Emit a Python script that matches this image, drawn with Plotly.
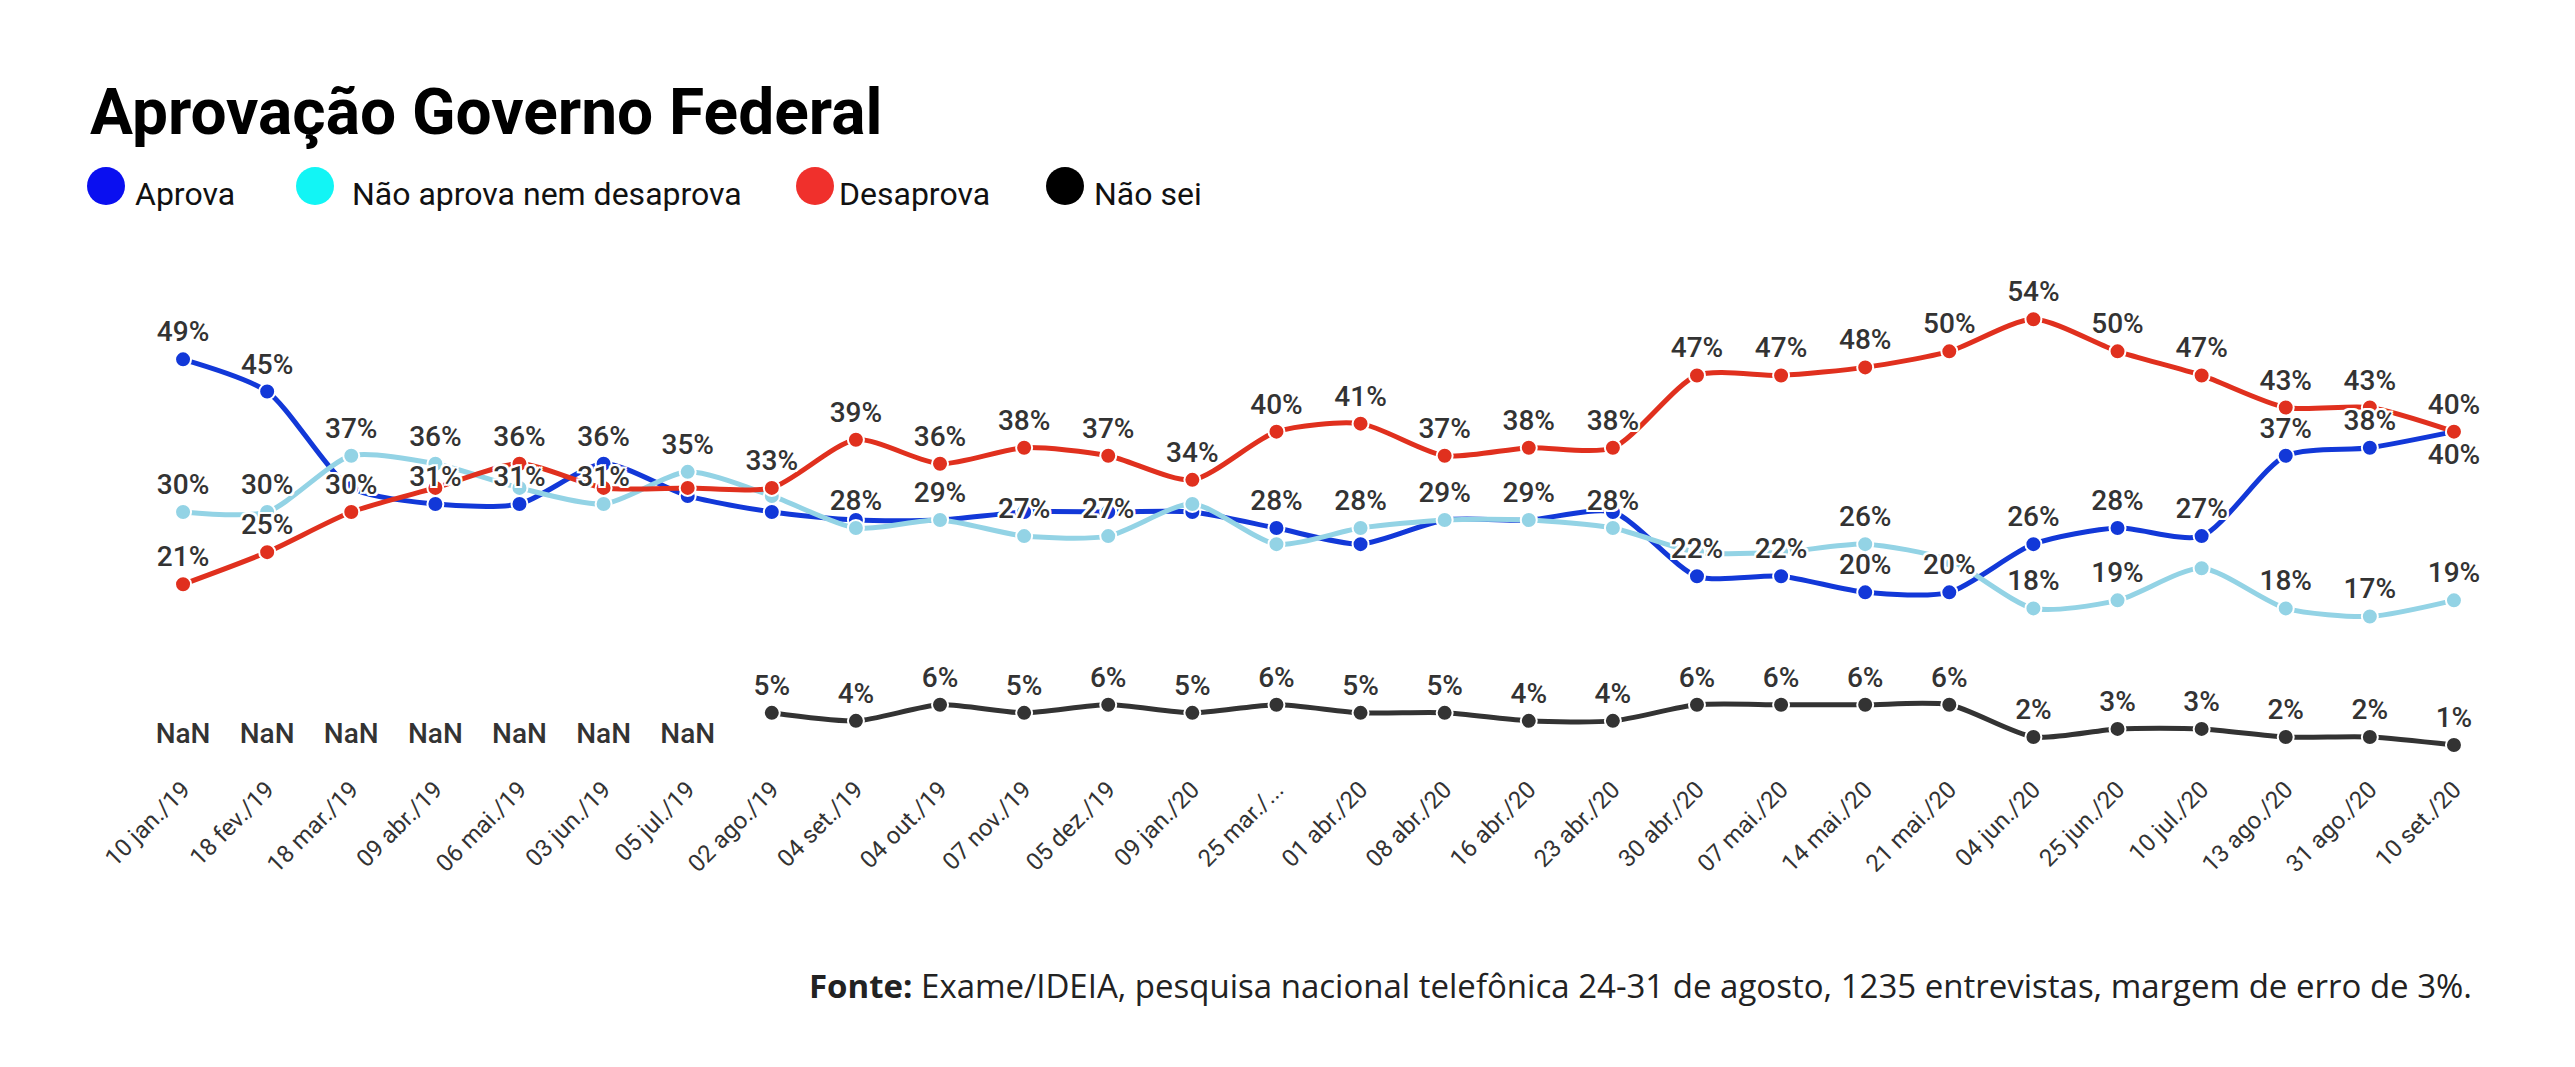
import plotly.graph_objects as go

W, H = 2575, 1067

categories = ["10 jan./19", "18 fev./19", "18 mar./19", "09 abr./19", "06 mai./19",
              "03 jun./19", "05 jul./19", "02 ago./19", "04 set./19", "04 out./19",
              "07 nov./19", "05 dez./19", "09 jan./20", "25 mar./...", "01 abr./20",
              "08 abr./20", "16 abr./20", "23 abr./20", "30 abr./20", "07 mai./20",
              "14 mai./20", "21 mai./20", "04 jun./20", "25 jun./20", "10 jul./20",
              "13 ago./20", "31 ago./20", "10 set./20"]

aprova = [49, 45, 33, 31, 31, 36, 32, 30, 29, 29, 30, 30, 30, 28, 26, 29, 29, 30,
          22, 22, 20, 20, 26, 28, 27, 37, 38, 40]
nem = [30, 30, 37, 36, 33, 31, 35, 32, 28, 29, 27, 27, 31, 26, 28, 29, 29, 28,
       25, 25, 26, 24, 18, 19, 23, 18, 17, 19]
desaprova = [21, 25, 30, 33, 36, 33, 33, 33, 39, 36, 38, 37, 34, 40, 41, 37, 38, 38,
             47, 47, 48, 50, 54, 50, 47, 43, 43, 40]
nao_sei = [None] * 7 + [5, 4, 6, 5, 6, 5, 6, 5, 5, 4, 4, 6, 6, 6, 6, 2, 3, 3, 2, 2, 1]

series_names = ["Aprova", "Não aprova nem desaprova", "Desaprova", "Não sei"]
line_colors = ["#1238d8", "#93d3e5", "#e0301e", "#333333"]
legend_colors = ["#0a0ff0", "#12f5f5", "#f0302c", "#000000"]

# labels hidden in the original because of overlap
hidden = {
    "Aprova": {2, 6, 7, 8, 9, 10, 11, 12, 14, 15, 16, 17},
    "Não aprova nem desaprova": {4, 7, 12, 13, 18, 19, 21, 24},
    "Desaprova": {3, 5, 6},
    "Não sei": set(),
}

def px_x(p):
    return p / W

def px_y(p):
    return 1 - p / H

fig = go.Figure()

data = [aprova, nem, desaprova, nao_sei]
draw_order = [3, 0, 1, 2]

for i in draw_order:
    fig.add_trace(go.Scatter(
        x=categories, y=data[i], mode="lines+markers", name=series_names[i],
        line=dict(color=line_colors[i], width=5, shape="spline", smoothing=0.7),
        marker=dict(size=16, color=line_colors[i], line=dict(color="white", width=2)),
        cliponaxis=False, showlegend=False, hoverinfo="skip",
    ))

halo = ", ".join(f"{dx}px {dy}px 0 #fff" for dx in (-2, 0, 2) for dy in (-2, 0, 2) if dx or dy)
label_font = dict(family="Roboto", size=28, color="#333333", weight=500, shadow=halo)

for i in draw_order:
    name = series_names[i]
    vals = data[i]
    texts = ["" if (v is None or k in hidden[name]) else f"{v}%" for k, v in enumerate(vals)]
    pos = ["top center"] * len(vals)
    if name == "Aprova":
        pos[-1] = "bottom center"
    fig.add_trace(go.Scatter(
        x=categories, y=vals, mode="markers+text", text=texts, textposition=pos,
        textfont=label_font, marker=dict(size=16, color="rgba(0,0,0,0)"),
        cliponaxis=False, showlegend=False, hoverinfo="skip",
    ))

# NaN labels for missing "Não sei" values
nan_x = [c for c, v in zip(categories, nao_sei) if v is None]
fig.add_trace(go.Scatter(
    x=nan_x, y=[0] * len(nan_x), mode="markers+text", text=["NaN"] * len(nan_x),
    textposition="top center", textfont=label_font,
    marker=dict(size=4, color="rgba(0,0,0,0)"),
    cliponaxis=False, showlegend=False, hoverinfo="skip",
))

annotations = [
    dict(text="<b>Aprovação Governo Federal</b>", x=px_x(88), y=px_y(112), xref="paper", yref="paper",
         xanchor="left", yanchor="middle", showarrow=False,
         font=dict(family="Roboto", size=64, color="#000000")),
    dict(text="<b>Fonte:</b> Exame/IDEIA, pesquisa nacional telefônica 24-31 de agosto, 1235 entrevistas, margem de erro de 3%.",
         x=px_x(2474), y=px_y(985), xref="paper", yref="paper", xanchor="right", yanchor="middle",
         showarrow=False, font=dict(family="Open Sans", size=33, color="#222222")),
]

shapes = []
legend_circle_x = [106, 315, 815, 1065]
legend_text_x = [133, 350, 837, 1092]
for cx, tx, col, name in zip(legend_circle_x, legend_text_x, legend_colors, series_names):
    r = 19
    shapes.append(dict(type="circle", xref="paper", yref="paper",
                       x0=px_x(cx - r), x1=px_x(cx + r), y0=px_y(186 + r), y1=px_y(186 - r),
                       fillcolor=col, line=dict(width=0)))
    annotations.append(dict(text=name, x=px_x(tx), y=px_y(194), xref="paper", yref="paper",
                            xanchor="left", yanchor="middle", showarrow=False,
                            font=dict(family="Roboto", size=32, color="#111111")))

fig.update_layout(
    width=W, height=H, autosize=False,
    margin=dict(l=0, r=0, t=0, b=0),
    paper_bgcolor="white", plot_bgcolor="white",
    showlegend=False,
    xaxis=dict(type="category", range=[-0.5, len(categories) - 0.5],
               domain=[px_x(141), px_x(2496)], showgrid=False, zeroline=False, showline=False,
               tickangle=-45, ticks="outside", ticklen=12, tickcolor="rgba(0,0,0,0)",
               tickfont=dict(family="Roboto", size=24, color="#333333"), automargin=False,
               fixedrange=True),
    yaxis=dict(range=[0, 60], domain=[px_y(753), px_y(271)], visible=False, fixedrange=True),
    annotations=annotations, shapes=shapes,
)

fig.write_html("out.html", config={"displayModeBar": False},
               post_script="document.body.style.margin='0';document.body.style.overflow='hidden';")
